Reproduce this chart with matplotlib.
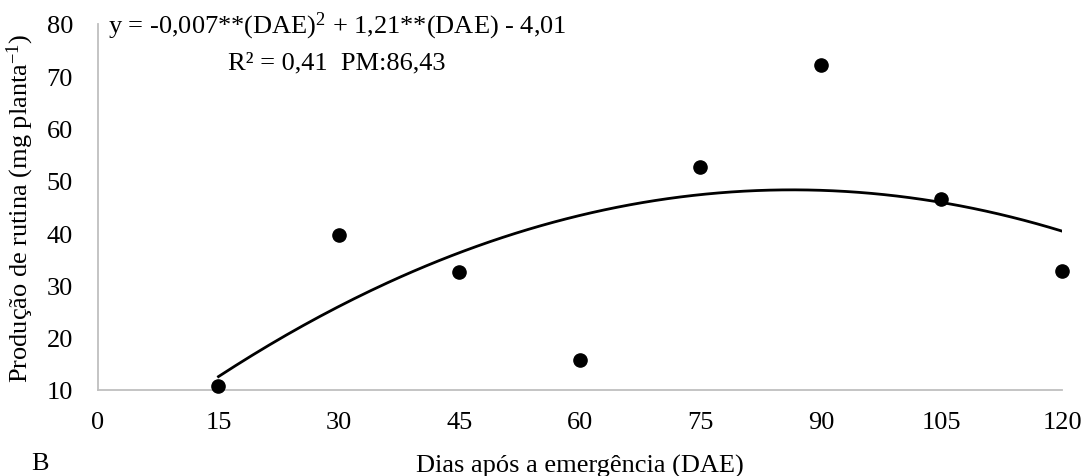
import numpy as np
import matplotlib
matplotlib.use("Agg")
import matplotlib.pyplot as plt

plt.rcParams['font.family'] = ['Liberation Serif', 'DejaVu Serif']
plt.rcParams['mathtext.fontset'] = 'custom'
plt.rcParams['mathtext.rm'] = 'Liberation Serif'
plt.rcParams['mathtext.it'] = 'Liberation Serif:italic'

# observed values (days after emergence vs rutin production)
dae = [15, 30, 45, 60, 75, 90, 105, 120]
rutina = [10.8, 39.7, 32.6, 15.7, 52.7, 72.1, 46.6, 32.8]

# quadratic trend coefficients as printed on the chart
coef = [-0.007, 1.21, -4.01]

x_ticks = [0, 15, 30, 45, 60, 75, 90, 105, 120]
y_ticks = [10, 20, 30, 40, 50, 60, 70, 80]

fs = 19

fig = plt.figure(figsize=(10.84, 4.77), dpi=100)
ax = fig.add_axes([0.0904, 0.1803, 0.8893, 0.7673])

# trend line over the observed range
xs = np.linspace(min(dae), max(dae), 200)
ax.plot(xs, np.polyval(coef, xs), color='black', linewidth=2.0, zorder=2)

# measured points
ax.plot(dae, rutina, 'o', color='black', markersize=9.5, zorder=3, clip_on=False)

ax.set_xlim(0, 120)
ax.set_ylim(10, 80)
ax.set_xticks(x_ticks)
ax.set_yticks(y_ticks)
ax.tick_params(axis='both', length=0, labelsize=fs)
ax.tick_params(axis='x', pad=15)
ax.tick_params(axis='y', pad=18)

for side in ['top', 'right']:
    ax.spines[side].set_visible(False)
for side in ['left', 'bottom']:
    ax.spines[side].set_color('#bfbfbf')
    ax.spines[side].set_linewidth(1.3)

fig.text(20 / 1084, 1 - 208 / 477, r'Produção de rutina (mg planta$^{-1}$)',
         rotation=90, ha='center', va='center', fontsize=fs)
fig.text(580 / 1084, 1 - 466 / 477, 'Dias após a emergência (DAE)',
         ha='center', va='center', fontsize=fs)
fig.text(40 / 1084, 2 / 477, 'B', ha='center', va='bottom', fontsize=fs)

fig.text(337 / 1084, 1 - 26 / 477,
         r'y = -0,007**(DAE)$^{2}$ + 1,21**(DAE) - 4,01',
         ha='center', va='center', fontsize=fs)
fig.text(337 / 1084, 1 - 63 / 477, 'R² = 0,41  PM:86,43',
         ha='center', va='center', fontsize=fs)

plt.savefig("out.png", dpi=100)
